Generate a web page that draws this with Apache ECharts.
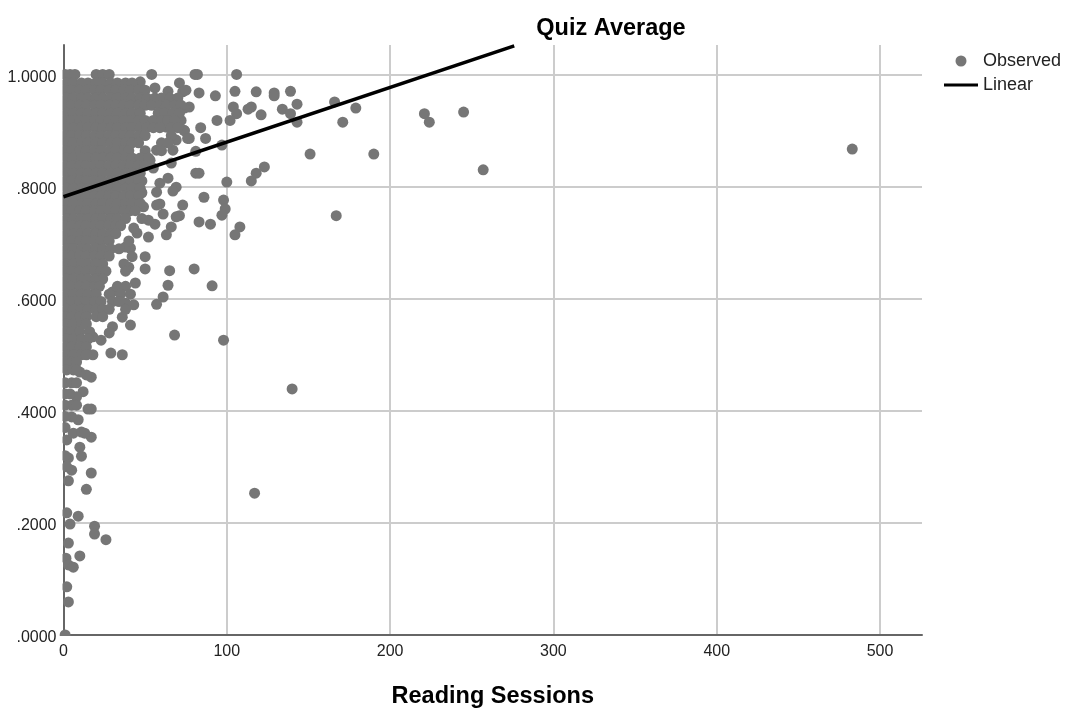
<!DOCTYPE html>
<html>
<head>
<meta charset="utf-8">
<style>html,body{margin:0;padding:0;background:#fff}#c{width:1069px;height:720px}</style>
<script src="https://cdn.jsdelivr.net/npm/echarts@6/dist/echarts.min.js"></script>
</head>
<body>
<div id="c"></div>
<script>
const chartTitle = 'Quiz Average';
const xTitle = 'Reading Sessions';
const seriesNames = ['Observed', 'Linear'];

// Regression line end points [sessions, quiz average]
const linearFit = [[0, 0.782], [276, 1.051]];

// Isolated points read individually [sessions, quiz average]
const observedSparse = [
  [483,.867],[257,.83],[245,.933],[221,.93],[224,.915],[190,.858],[151,.858],[179,.94],[171,.915],[166,.951],
  [167,.748],[140,.439],[117,.253],[98,.526],[68,.535],[80.5,1],[82,1],[106,1],[105,.97],[118,.969],
  [129,.967],[129,.962],[139,.97],[83,.967],[93,.962],[143,.947],[104,.942],[106,.93],[102,.918],[94,.918],
  [113,.938],[115,.942],[121,.928],[134,.938],[139,.93],[143,.915],[84,.905],[87,.886],[77,.886],[74,.9],
  [81,.863],[97,.874],[81,.824],[83,.824],[100,.808],[115,.81],[118,.824],[123,.835],[86,.781],[73,.767],
  [98,.776],[99,.76],[97,.749],[83,.737],[90,.733],[108,.728],[105,.714],[71,.748],[56,.733],[69,.746],
  [61,.751],[59,.769],[57,.767],[66,.728],[63,.714],[52,.71],[45,.717],[43,.726],[50,.675],[50,.653],
  [65,.65],[80,.653],[64,.624],[91,.623],[61,.603],[57,.59],[44,.628],[40,.656],[41,.69],[38,.692],
  [42,.675],[43,.589],[38,.592],[30,.612],[36,.567],[41,.553],[30,.55],[28,.539],[23,.526],[18,.532],
  [18,.5],[29,.503],[36,.5],[17,.46],[14,.464],[10,.469],[12,.434],[8,.425],[17,.403],[15,.403],
  [9,.384],[5,.389],[2,.348],[6,.36],[11,.362],[17,.353],[13,.36],[10,.335],[11,.319],[3,.316],
  [1,.32],[5,.294],[2,.3],[17,.289],[3,.275],[14,.26],[2,.218],[9,.212],[4,.198],[19,.194],
  [19,.18],[26,.17],[3,.164],[10,.141],[1.5,.137],[3,.125],[6,.121],[2,.086],[3,.059],[1,0],
  [1,1],[4,1],[7,1],[20,1],[24,1],[28,1],[54,1],[71,.985],[73,.969],[75,.972],
  [64,.97],[56,.976],[47,.987],[77,.942],[74,.94],[72,.918],[63,.906],[74,.9],[76,.886],[69,.883],
  [67,.865],[57,.865],[66,.842],[53,.847],[55,.833],[59,.806],[64,.815],[69,.799],[57,.79],[67,.792],
  [48,.789],[49,.764],[52,.74]
];

// Dense block near the axis, read row by row: first number is quiz average, the rest are sessions
const observedDense = [
  [.985,2,6,11,15,20,24,29,33,38,42],
  [.972,1,5,10,14,19,23,28,32,37,41,46,50],
  [.958,2,6,11,15,20,24,29,33,38,42,47,51,56,60,65,70],
  [.945,1,5,10,14,19,23,28,32,37,41,46,50,54,59,63,68,72],
  [.931,2,6,11,15,20,24,29,33,38,42,47,58,62,67,71],
  [.918,1,5,10,14,19,23,28,32,37,41,46,50,55,60,64,68],
  [.905,2,6,11,15,20,24,29,33,38,42,47,51,55,59,66,70],
  [.891,1,5,10,14,19,23,28,32,37,41,46,50,66],
  [.878,2,6,11,15,20,24,29,33,38,42,46,60,64],
  [.864,1,5,10,14,19,23,28,32,37,40,50,60],
  [.851,2,6,11,15,20,24,29,33,38,42,47,52],
  [.837,1,5,10,14,19,23,28,32,37,41,46,50],
  [.824,2,6,11,15,20,24,29,33,38,42,47],
  [.81,1,5,10,14,19,23,28,32,37,41,46,48],
  [.797,2,6,11,15,20,24,29,33,38,42,47],
  [.783,1,5,10,14,19,23,28,32,37,41,46],
  [.77,2,6,11,15,20,24,29,33,38,42,47],
  [.757,1,5,10,14,19,23,28,32,37,41,44],
  [.743,2,6,11,15,20,24,29,33,38,48],
  [.73,1,5,10,14,19,23,28,32,35],
  [.716,2,6,11,15,20,24,29,32],
  [.703,1,5,10,14,19,23,28,40],
  [.689,2,6,11,15,20,24,29,34],
  [.676,1,5,10,14,19,23,28],
  [.662,2,6,11,15,20,24,37],
  [.649,1,5,10,14,19,23,26,38],
  [.635,2,6,11,15,20,24],
  [.622,1,5,10,14,19,22,33,38],
  [.608,2,6,11,15,20,28,35,41],
  [.595,1,5,10,14,19,23,30,34],
  [.581,2,6,11,15,20,24,28,38],
  [.568,1,5,10,14,20,24],
  [.555,2,6,11,14],
  [.541,1,5,10,16],
  [.528,2,6,11,15],
  [.514,1,5,10,14],
  [.5,2,6,11,14],
  [.487,1,5,8],
  [.473,2,6,8],
  [.45,1,5,8],
  [.43,1,4],
  [.41,1,5,8],
  [.39,1],
  [.37,1]
];

const yTickText = {0: '.0000', 0.2: '.2000', 0.4: '.4000', 0.6: '.6000', 0.8: '.8000', 1: '1.0000'};

const observed = observedSparse.concat(
  observedDense.flatMap(row => row.slice(1).map(x => [x, row[0]]))
);

const font = '"Liberation Sans", Arial, sans-serif';
const gridColor = '#cccccc';
const axisColor = '#666666';
const dotColor = '#767676';

const chart = echarts.init(document.getElementById('c'), null, {renderer: 'canvas'});
chart.setOption({
  animation: false,
  backgroundColor: '#fff',
  title: {
    text: chartTitle, left: 611, top: 17, textAlign: 'center', padding: 0,
    textStyle: {fontFamily: font, fontSize: 23.5, fontWeight: 'bold', color: '#000'}
  },
  legend: {
    left: 944, top: 52, padding: 0, orient: 'vertical', itemWidth: 34, itemHeight: 11, itemGap: 6,
    textStyle: {fontFamily: font, fontSize: 18, color: '#222'},
    data: [
      {name: seriesNames[0], icon: 'circle'},
      {name: seriesNames[1], icon: 'path://M0 0H34V3H0Z'}
    ]
  },
  grid: {left: 63.5, right: 147, top: 45, bottom: 85},
  xAxis: {
    type: 'value', min: 0, max: 525.7, interval: 100,
    name: xTitle, nameLocation: 'middle', nameGap: 50,
    nameTextStyle: {fontFamily: font, fontSize: 23.5, fontWeight: 'bold', color: '#000'},
    axisLine: {show: true, onZero: false, lineStyle: {color: axisColor, width: 2}},
    axisTick: {show: false},
    axisLabel: {fontFamily: font, fontSize: 16, color: '#222', margin: 9, showMaxLabel: false},
    splitLine: {show: true, showMaxLine: false, showMinLine: false, lineStyle: {color: gridColor, width: 2}}
  },
  yAxis: {
    type: 'value', min: 0, max: 1.0526, interval: 0.2,
    axisLine: {show: true, onZero: false, lineStyle: {color: axisColor, width: 2}},
    axisTick: {show: false},
    axisLabel: {
      fontFamily: font, fontSize: 16, color: '#222', margin: 7, showMaxLabel: false,
      verticalAlign: 'top', lineHeight: 6,
      formatter: v => yTickText[Math.round(v * 10) / 10] ?? ''
    },
    splitLine: {show: true, showMaxLine: false, showMinLine: false, lineStyle: {color: gridColor, width: 2}}
  },
  graphic: [
    {type: 'rect', silent: true, z: 4, shape: {x: 56, y: 40, width: 6.5, height: 590}, style: {fill: '#fff'}},
    {type: 'rect', silent: true, z: 4, shape: {x: 58, y: 636, width: 30, height: 6}, style: {fill: '#fff'}}
  ],
  series: [
    {
      name: seriesNames[0], type: 'scatter', z: 2, symbol: 'circle', symbolSize: 11,
      itemStyle: {color: dotColor, opacity: 1}, data: observed
    },
    {
      name: seriesNames[1], type: 'line', z: 6, symbol: 'none', smooth: false,
      lineStyle: {color: '#000', width: 3.6}, itemStyle: {color: '#000'}, data: linearFit
    }
  ]
});
</script>
</body>
</html>
